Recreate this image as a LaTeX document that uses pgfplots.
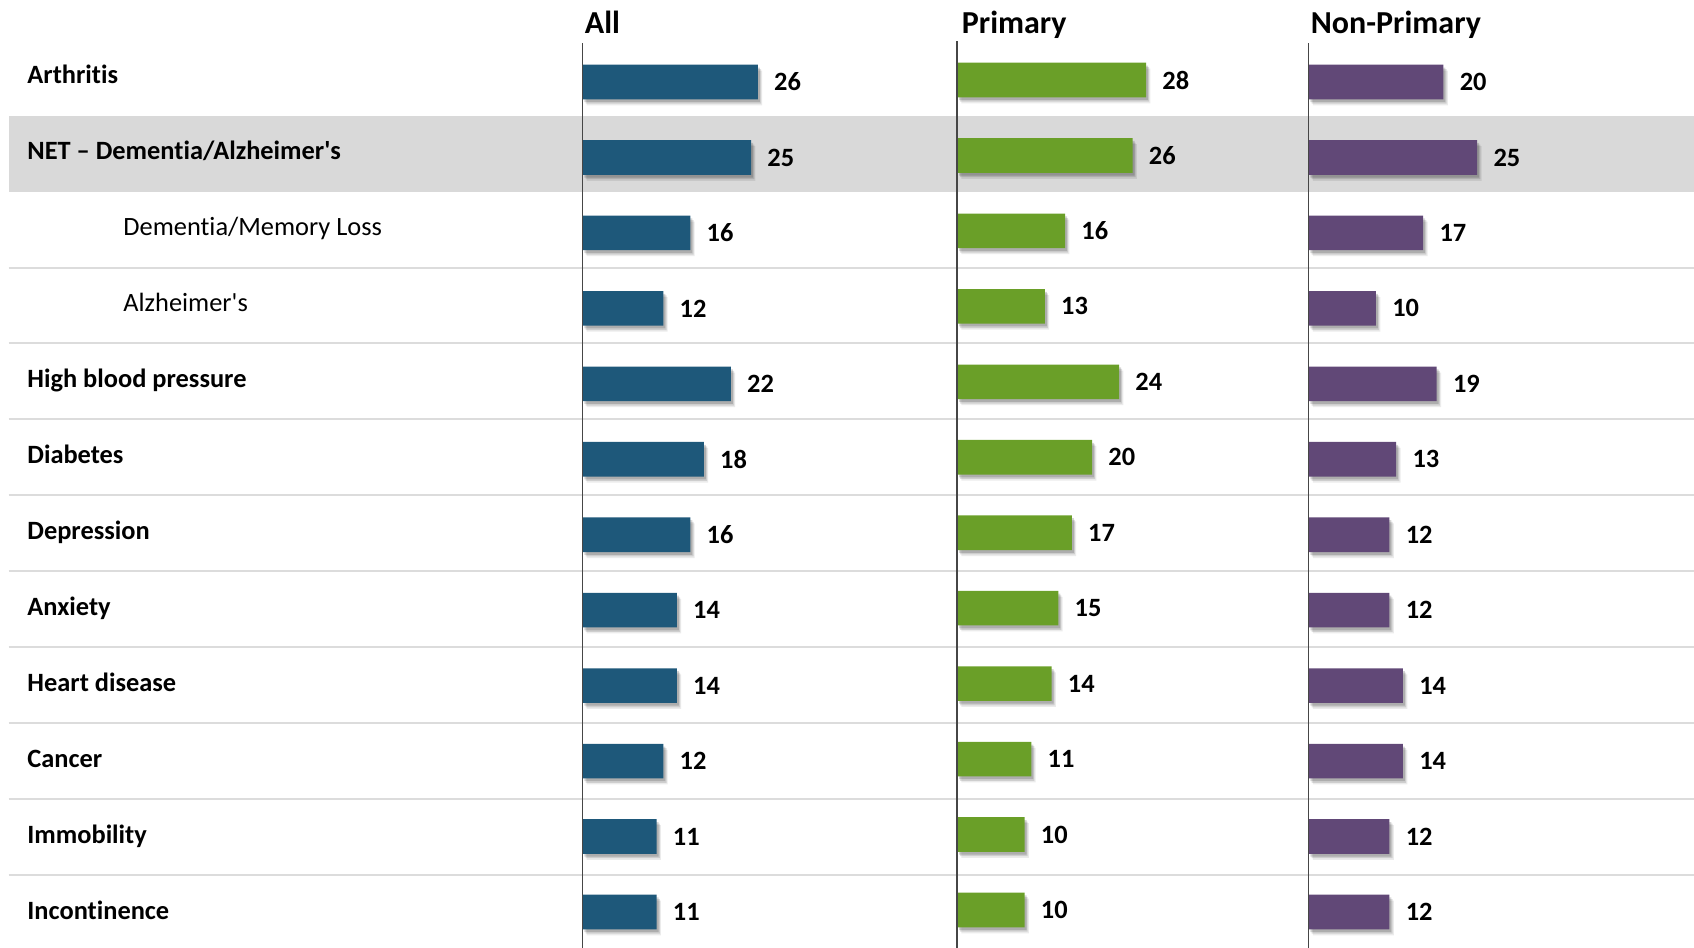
\documentclass[border=0pt]{standalone}
\usepackage{fontspec}
\setmainfont{Carlito}[Ligatures={NoCommon,NoRequired,NoContextual}]
\usepackage{pgfplots}
\usepackage{pgfplotstable}
\pgfplotsset{compat=1.18}
\usetikzlibrary{shadows}

\definecolor{allc}{RGB}{30,88,122}
\definecolor{primc}{RGB}{106,159,40}
\definecolor{nonc}{RGB}{97,72,119}
\definecolor{bandc}{RGB}{217,217,217}
\definecolor{sepc}{RGB}{220,220,220}
\definecolor{axc}{RGB}{70,70,70}

% yA/yP: bar centres in picture pixels (rows top to bottom)
\pgfplotstableread{
yA      yP      all  prim  non
82.00   80.00   26   28    20
157.45  155.45  25   26    25
232.90  230.90  16   16    17
308.35  306.35  12   13    10
383.80  381.80  22   24    19
459.25  457.25  18   20    13
534.70  532.70  16   17    12
610.15  608.15  14   15    12
685.60  683.60  14   14    14
761.05  759.05  12   11    14
836.50  834.50  11   10    12
911.95  909.95  11   10    12
}\datatable

\begin{document}
\begin{tikzpicture}
\useasboundingbox (0pt,0pt) rectangle (847pt,474pt);
\pgfplotsset{
  base/.style={scale only axis, height=474pt, ymin=0, ymax=948, y dir=reverse,
    hide axis, clip=false, anchor=south west},
  barax/.style={base, xmin=0, xmax=50, width=168.75pt,
    /pgf/number format/assume math mode=true},
  bars/.style={xbar, bar width=17.3pt, draw=none, fill=#1,
    drop shadow={shadow xshift=2.2pt, shadow yshift=-3.0pt, opacity=0.08, fill=black},
    drop shadow={shadow xshift=1.6pt, shadow yshift=-2.2pt, opacity=0.12, fill=black},
    drop shadow={shadow xshift=1.0pt, shadow yshift=-1.4pt, opacity=0.16, fill=black},
    nodes near coords,
    every node near coord/.style={font=\fontsize{13.2}{15}\bfseries\selectfont,
      text=black, anchor=west, inner sep=0pt, xshift=8pt, fill=none, draw=none}},
}
\tikzset{
  lab/.style={anchor=base west, inner sep=0pt, font=\fontsize{13.2}{15}\bfseries\selectfont},
  sublab/.style={anchor=base west, inner sep=0pt, font=\fontsize{13.2}{15}\selectfont},
  head/.style={anchor=base west, inner sep=0pt, font=\fontsize{16}{18}\bfseries\selectfont},
}

% background: band, separators, row labels, headers (pixel coordinates)
\begin{axis}[base, at={(0pt,0pt)}, width=847pt, xmin=0, xmax=1694]
  \fill[bandc] (axis cs:8.6,115.6) rectangle (axis cs:1694,191.55);
  \pgfplotsinvokeforeach{267.5,343.45,419.4,495.35,571.3,647.25,723.2,799.15,875.1}{
    \draw[sepc, line width=1pt] (axis cs:8.6,#1) -- (axis cs:1694,#1);
  }
  \node[lab]    at (axis cs:27,83)  {Arthritis};
  \node[lab]    at (axis cs:27,159) {NET – Dementia/Alzheimer\textquotesingle s};
  \node[sublab] at (axis cs:123,235) {Dementia/Memory Loss};
  \node[sublab] at (axis cs:123,311) {Alzheimer\textquotesingle s};
  \node[lab]    at (axis cs:27,387) {High blood pressure};
  \node[lab]    at (axis cs:27,463) {Diabetes};
  \node[lab]    at (axis cs:27,539) {Depression};
  \node[lab]    at (axis cs:27,615) {Anxiety};
  \node[lab]    at (axis cs:27,691) {Heart disease};
  \node[lab]    at (axis cs:27,767) {Cancer};
  \node[lab]    at (axis cs:27,843) {Immobility};
  \node[lab]    at (axis cs:27,919) {Incontinence};
  \node[head] at (axis cs:584.5,33.5)  {All};
  \node[head] at (axis cs:961.5,33.5)  {Primary};
  \node[head] at (axis cs:1310.5,33.5) {Non-Primary};
\end{axis}

% All
\begin{axis}[barax, at={(291.15pt,0pt)}]
  \addplot[bars=allc] table[x=all, y=yA] {\datatable};
  \draw[axc, line width=0.7pt] (axis cs:0,43) -- (axis cs:0,948);
\end{axis}

% Primary
\begin{axis}[barax, at={(478.5pt,0pt)}]
  \addplot[bars=primc] table[x=prim, y=yP] {\datatable};
  \draw[axc, line width=0.7pt] (axis cs:0,41) -- (axis cs:0,948);
\end{axis}

% Non-Primary
\begin{axis}[barax, at={(654.2pt,0pt)}]
  \addplot[bars=nonc] table[x=non, y=yA] {\datatable};
  \draw[axc, line width=0.7pt] (axis cs:0,43) -- (axis cs:0,948);
\end{axis}
\end{tikzpicture}
\end{document}
